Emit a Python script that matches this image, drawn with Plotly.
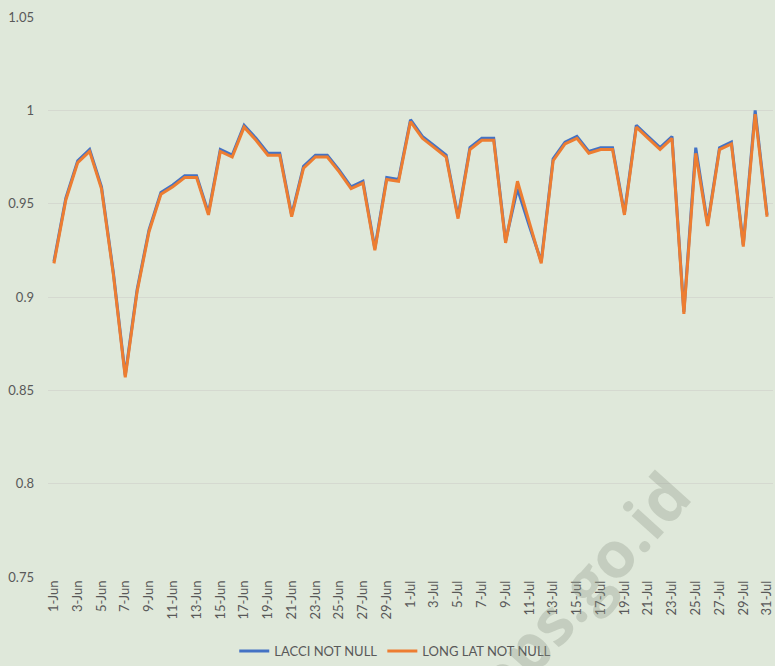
import plotly.graph_objects as go

dates = [f"{d}-Jun" for d in range(1, 31)] + [f"{d}-Jul" for d in range(1, 32)]

long_lat = [0.918, 0.952, 0.972, 0.978, 0.958, 0.912, 0.857, 0.903, 0.935, 0.955,
            0.959, 0.964, 0.964, 0.944, 0.978, 0.975, 0.991, 0.984, 0.976, 0.976,
            0.943, 0.969, 0.975, 0.975, 0.967, 0.958, 0.961, 0.925, 0.963, 0.962,
            0.994, 0.985, 0.980, 0.975, 0.942, 0.979, 0.984, 0.984, 0.929, 0.962,
            0.940, 0.918, 0.973, 0.982, 0.985, 0.977, 0.979, 0.979, 0.944, 0.991,
            0.985, 0.979, 0.985, 0.891, 0.977, 0.938, 0.979, 0.982, 0.927, 0.998,
            0.943]

lacci = [0.919, 0.953, 0.973, 0.979, 0.959, 0.913, 0.858, 0.904, 0.936, 0.956,
         0.960, 0.965, 0.965, 0.945, 0.979, 0.976, 0.992, 0.985, 0.977, 0.977,
         0.944, 0.970, 0.976, 0.976, 0.968, 0.959, 0.962, 0.926, 0.964, 0.963,
         0.995, 0.986, 0.981, 0.976, 0.943, 0.980, 0.985, 0.985, 0.930, 0.958,
         0.938, 0.919, 0.974, 0.983, 0.986, 0.978, 0.980, 0.980, 0.945, 0.992,
         0.986, 0.980, 0.986, 0.892, 0.980, 0.939, 0.980, 0.983, 0.928, 1.000,
         0.944]

y_ticks = [0.75, 0.8, 0.85, 0.9, 0.95, 1, 1.05]
y_labels = ["0.75", "0.8", "0.85", "0.9", "0.95", "1", "1.05"]

bg = "#dfe8da"
font = "Lato, 'Open Sans', sans-serif"

W, H = 775, 666
ML, MR, MT, MB = 48, 2, 17, 89

fig = go.Figure()
fig.add_trace(go.Scatter(x=dates, y=lacci, mode="lines", name="LACCI NOT NULL",
                         line=dict(color="#4472C4", width=3)))
fig.add_trace(go.Scatter(x=dates, y=long_lat, mode="lines", name="LONG LAT NOT NULL",
                         line=dict(color="#ED7D31", width=3)))

fig.update_layout(
    width=W, height=H,
    paper_bgcolor=bg, plot_bgcolor=bg,
    margin=dict(l=ML, r=MR, t=MT, b=MB, autoexpand=False),
    font=dict(family=font, size=13, color="#595959"),
    showlegend=True,
    legend=dict(orientation="h", xref="container", x=0.51, xanchor="center",
                yref="container", y=0.0, yanchor="bottom",
                font=dict(size=13, color="#595959"), bgcolor="rgba(0,0,0,0)",
                itemwidth=30),
    xaxis=dict(type="category", range=[-0.5, 60.5], tickmode="array",
               tickvals=dates[::2], ticktext=dates[::2], tickangle=-90,
               showgrid=False, zeroline=False, showline=False, ticks="",
               automargin=False,
               tickfont=dict(size=13, color="#595959")),
    yaxis=dict(range=[0.75, 1.05], tickmode="array", tickvals=y_ticks, ticktext=y_labels,
               showgrid=True, gridcolor="#d5d9d0", gridwidth=1, zeroline=False,
               showline=False, ticks="", ticklabelstandoff=13, automargin=False,
               tickfont=dict(size=13, color="#595959")),
)

# watermark position given in pixels, converted to paper coordinates
wm_px, wm_py = 580, 588
fig.add_annotation(text="<b>bps.go.id</b>",
                   x=(wm_px - ML) / (W - ML - MR),
                   y=(H - MB - wm_py) / (H - MT - MB),
                   xref="paper", yref="paper", xanchor="center", yanchor="middle",
                   showarrow=False, textangle=-48,
                   font=dict(size=64, color="rgba(140,150,135,0.32)",
                             family="'Open Sans', sans-serif"))

fig.write_html("out.html", config={"displayModeBar": False},
               post_script="document.body.style.margin='0';document.body.style.overflow='hidden';")
